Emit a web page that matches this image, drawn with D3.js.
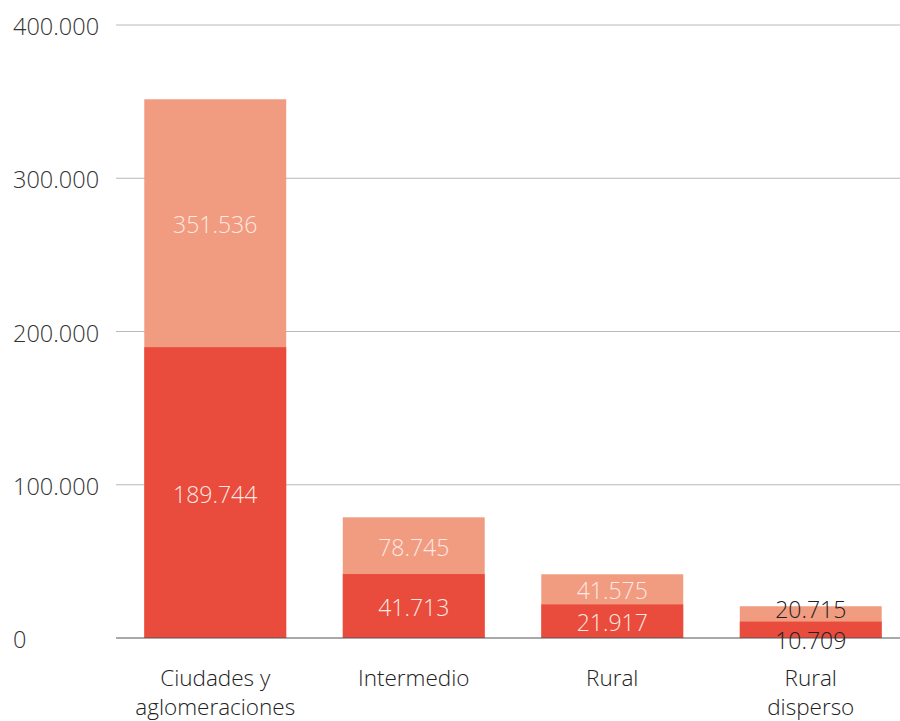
<!DOCTYPE html>
<html>
<head>
<meta charset="utf-8">
<script src="https://cdn.jsdelivr.net/npm/d3@7"></script>
<style>
  html, body { margin: 0; padding: 0; background: #fff; }
  svg { display: block; }
  text { font-family: "Open Sans", "Noto Sans", sans-serif; font-weight: 300; }
</style>
</head>
<body>
<svg id="chart" width="900" height="721"></svg>
<script>
const categories = [["Ciudades y", "aglomeraciones"], ["Intermedio"], ["Rural"], ["Rural", "disperso"]];
const totalValues = [351536, 78745, 41575, 20715];
const baseValues = [189744, 41713, 21917, 10709];
const yTicks = [0, 100000, 200000, 300000, 400000];
const tickLabels = ["0", "100.000", "200.000", "300.000", "400.000"];

(function () {
const fmt = v => d3.format(",")(v).replace(/,/g, ".");
const svg = d3.select("#chart");
const W = 900;
const mLeft = 116, mRight = 910, mTop = 25, mBottom = 638;

const keys = categories.map(c => c.join(" "));
const x = d3.scaleBand().domain(keys).range([mLeft, mRight]).paddingInner(0.285).paddingOuter(0.1425);
const y = d3.scaleLinear().domain([0, 400000]).range([mBottom, mTop]);

// gridlines
svg.append("g").selectAll("line").data(yTicks.filter(d => d > 0)).join("line")
  .attr("x1", mLeft).attr("x2", W)
  .attr("y1", d => y(d)).attr("y2", d => y(d))
  .attr("stroke", "#b9b9b9").attr("stroke-width", 1.2);

// tick labels
svg.append("g").selectAll("text").data(yTicks).join("text")
  .attr("x", 13).attr("y", d => y(d) + 1)
  .attr("dominant-baseline", "central")
  .attr("font-size", 23.5).attr("fill", "#333")
  .text((d, i) => tickLabels[i]);

// light (total) bars
svg.append("g").selectAll("rect").data(totalValues).join("rect")
  .attr("x", (d, i) => x(keys[i])).attr("width", x.bandwidth())
  .attr("y", d => y(d)).attr("height", d => y(0) - y(d))
  .attr("fill", "#F19B80");

// dark (base) bars
svg.append("g").selectAll("rect").data(baseValues).join("rect")
  .attr("x", (d, i) => x(keys[i])).attr("width", x.bandwidth())
  .attr("y", d => y(d)).attr("height", d => y(0) - y(d))
  .attr("fill", "#E94B3C");

// baseline axis
svg.append("line").attr("x1", mLeft).attr("x2", W)
  .attr("y1", y(0)).attr("y2", y(0)).attr("stroke", "#555").attr("stroke-width", 1.2);

const minSeg = 30;
// light labels
svg.append("g").selectAll("text").data(totalValues).join("text")
  .attr("x", (d, i) => x(keys[i]) + x.bandwidth() / 2)
  .attr("y", (d, i) => {
    const h = y(baseValues[i]) - y(d);
    return h < minSeg ? y(d) + 3 : (y(d) + y(baseValues[i])) / 2 + 1;
  })
  .attr("text-anchor", "middle").attr("dominant-baseline", "central")
  .attr("font-size", 23)
  .attr("fill", (d, i) => (y(baseValues[i]) - y(d)) < minSeg ? "#222" : "#fde9e3")
  .text(d => fmt(d));

// dark labels
svg.append("g").selectAll("text").data(baseValues).join("text")
  .attr("x", (d, i) => x(keys[i]) + x.bandwidth() / 2)
  .attr("y", d => {
    const h = y(0) - y(d);
    return h < minSeg ? y(0) + 2 : (y(d) + y(0)) / 2 + 1;
  })
  .attr("text-anchor", "middle").attr("dominant-baseline", "central")
  .attr("font-size", 23)
  .attr("fill", d => (y(0) - y(d)) < minSeg ? "#222" : "#fde9e3")
  .text(d => fmt(d));

// category labels
const cat = svg.append("g").selectAll("text").data(categories).join("text")
  .attr("text-anchor", "middle").attr("font-size", 22.5).attr("fill", "#222")
  .attr("x", (d, i) => x(keys[i]) + x.bandwidth() / 2)
  .attr("y", 686);
cat.selectAll("tspan").data(d => d).join("tspan")
  .attr("x", function () { return this.parentNode.getAttribute("x"); })
  .attr("dy", (d, i) => i === 0 ? 0 : 29)
  .text(d => d);
})();
</script>
</body>
</html>
